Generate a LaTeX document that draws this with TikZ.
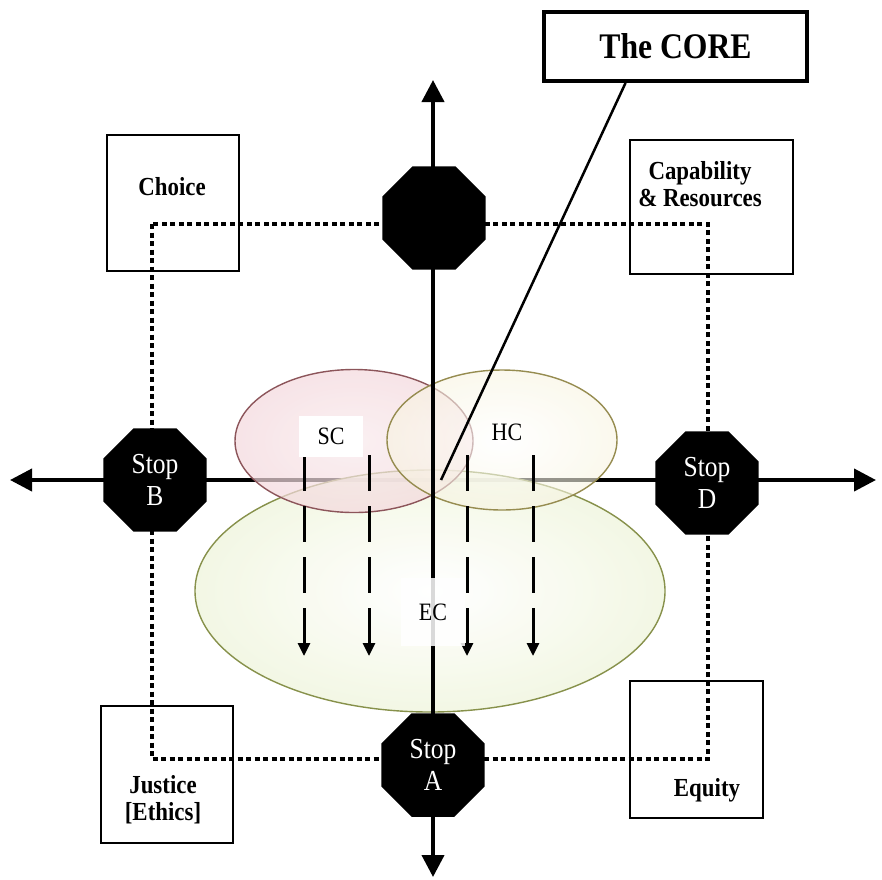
\documentclass[tikz,border=0pt]{standalone}
\usepackage{fontspec}
\setmainfont{Liberation Serif}
\newfontfamily\tallserif[FakeStretch=0.88]{Liberation Serif}
\usetikzlibrary{arrows.meta,shapes.geometric}

\definecolor{scfill}{RGB}{230,170,180}
\definecolor{scedge}{RGB}{140,85,90}
\definecolor{hcfill}{RGB}{232,222,165}
\definecolor{hcedge}{RGB}{150,140,80}
\definecolor{ecfill}{RGB}{200,218,135}
\definecolor{ecedge}{RGB}{135,145,75}

\pgfdeclareradialshading{ecglow}{\pgfpoint{0bp}{0bp}}{color(0bp)=(white); color(30bp)=(white!70!ecfill); color(50bp)=(ecfill)}
\pgfdeclareradialshading{scglow}{\pgfpoint{0bp}{0bp}}{color(0bp)=(white!75!scfill); color(30bp)=(white!50!scfill); color(50bp)=(scfill)}
\pgfdeclareradialshading{hcglow}{\pgfpoint{0bp}{0bp}}{color(0bp)=(white); color(30bp)=(white!60!hcfill); color(50bp)=(hcfill)}

\begin{document}
\begin{tikzpicture}[
  x=1pt, y=-1pt,
  stopsign/.style={regular polygon,regular polygon sides=8,fill=black,text=white,minimum size=112pt,inner sep=0pt,align=center,font=\tallserif\fontsize{29}{32}\selectfont},
  valuebox/.style={draw,line width=1.5pt,inner sep=0pt},
  valuetext/.style={align=center,inner sep=0pt,font=\tallserif\bfseries\fontsize{26}{27}\selectfont},
  bubble/.style={ellipse,line width=1.4pt,inner sep=0pt},
  caplabel/.style={inner sep=0pt,font=\tallserif\fontsize{25}{26}\selectfont},
  flow/.style={line width=3pt,dash pattern=on 36pt off 15pt,-{Triangle[length=13pt,width=12pt]}},
  axis/.style={line width=4pt,{Triangle[length=22pt,width=22pt]}-{Triangle[length=22pt,width=22pt]}},
  ring/.style={line width=4pt,dash pattern=on 5pt off 3.5pt}
]
  \useasboundingbox (0,0) rectangle (882,879);

  % dotted frame
  \coordinate (ringNW) at (152,224);
  \coordinate (ringSE) at (708,759);
  \draw[ring] (ringNW) rectangle (ringSE);

  % axes ends
  \coordinate (westend) at (10,480);
  \coordinate (eastend) at (876,480);
  \coordinate (northend) at (433,80);
  \coordinate (southend) at (433,877);
  \draw[axis] (westend) -- (eastend);

  % capitals
  \node[bubble,draw=ecedge,shading=ecglow,fill opacity=0.9,minimum width=470pt,minimum height=242pt] (ec) at (430,591) {};
  \node[bubble,draw=scedge,shading=scglow,fill opacity=0.7,minimum width=238pt,minimum height=143pt] (sc) at (354,441) {};
  \node[bubble,draw=hcedge,shading=hcglow,fill opacity=0.6,minimum width=230pt,minimum height=140pt] (hc) at (502,440) {};

  \draw[axis] (southend) -- (northend);

  % the core
  \node[draw,line width=4pt,minimum width=263pt,minimum height=69pt,font=\tallserif\bfseries\fontsize{36}{38}\selectfont] (core) at (675.5,46.5) {The CORE};
  \coordinate (corept) at (441,480);
  \draw[line width=2.5pt] ([xshift=-50pt]core.south) -- (corept);

  % flows
  \coordinate (f1s) at (304,455); \coordinate (f1e) at (304,656);
  \coordinate (f2s) at (369,455); \coordinate (f2e) at (369,656);
  \coordinate (f3s) at (467,455); \coordinate (f3e) at (467,656);
  \coordinate (f4s) at (533,455); \coordinate (f4e) at (533,656);
  \draw[flow] (f1s) -- (f1e);
  \draw[flow] (f2s) -- (f2e);
  \draw[flow] (f3s) -- (f3e);
  \draw[flow] (f4s) -- (f4e);

  \node[caplabel,fill=white,minimum width=64pt,minimum height=41pt] (sclabel) at (331,436) {SC};
  \node[caplabel] (hclabel) at (507,432) {HC};
  \node[caplabel,fill=white,fill opacity=0.85,text opacity=1,minimum width=64pt,minimum height=68pt] (eclabel) at (433,612) {EC};

  % stops
  \node[stopsign] (topstop) at (434,218) {};
  \node[stopsign] (stopB) at (155,480) {Stop\\B};
  \node[stopsign] (stopD) at (707,483) {Stop\\D};
  \node[stopsign] (stopA) at (433,765) {Stop\\A};

  % values
  \node[valuebox,minimum width=132pt,minimum height=136pt] (choice) at (173,203) {};
  \node[valuetext] (choicetext) at (172,187) {Choice};
  \node[valuebox,minimum width=163pt,minimum height=134pt] (capres) at (711.5,207) {};
  \node[valuetext] (caprestext) at (700,184) {Capability\\\& Resources};
  \node[valuebox,minimum width=132pt,minimum height=137pt] (justice) at (167,774.5) {};
  \node[valuetext] (justicetext) at (163,800) {Justice\\{[Ethics]}};
  \node[valuebox,minimum width=133pt,minimum height=137pt] (equity) at (696.5,749.5) {};
  \node[valuetext] (equitytext) at (707,790) {Equity};
\end{tikzpicture}
\end{document}
